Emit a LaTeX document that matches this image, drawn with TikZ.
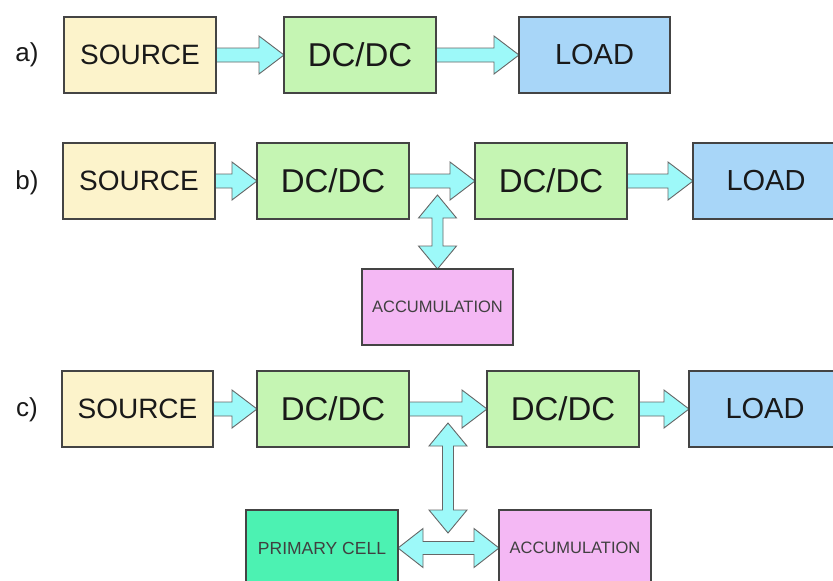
\documentclass[tikz,border=0pt]{standalone}
\usepackage{fontspec}
\setmainfont{Liberation Sans}
\usetikzlibrary{calc,backgrounds}
\definecolor{srcfill}{HTML}{FCF3CB}
\definecolor{dcfill}{HTML}{C5F5B3}
\definecolor{loadfill}{HTML}{A8D6F8}
\definecolor{accfill}{HTML}{F4B8F4}
\definecolor{pcfill}{HTML}{4CF2B2}
\definecolor{arrfill}{HTML}{9DF9F9}
\definecolor{edge}{HTML}{444444}
\tikzset{
  blk/.style={draw=edge, line width=1.2pt, minimum width=152pt, minimum height=76pt, inner sep=0pt, outer sep=0pt, text=black!90},
  srcbox/.style={blk, fill=srcfill, font=\fontsize{28}{30}\selectfont},
  dcbox/.style={blk, fill=dcfill, font=\fontsize{33}{35}\selectfont},
  loadbox/.style={blk, fill=loadfill, font=\fontsize{29}{31}\selectfont},
  accbox/.style={blk, fill=accfill, text=black!75, font=\fontsize{16.5}{18}\selectfont},
  pcbox/.style={blk, fill=pcfill, text=black!75, font=\fontsize{17.5}{19}\selectfont},
  rowlab/.style={font=\fontsize{26}{28}\selectfont, text=black!90},
  fatarrow/.style={draw=black!60, line width=0.9pt, fill=arrfill, line join=miter},
}
\newcommand{\harrow}[2]{%
  \path[fatarrow] let \p1=(#1), \p2=(#2) in
    (\x1,\y1+7pt) -- (\x2-25pt,\y1+7pt) -- (\x2-25pt,\y1+19pt) -- (\x2,\y1)
    -- (\x2-25pt,\y1-19pt) -- (\x2-25pt,\y1-7pt) -- (\x1,\y1-7pt) -- cycle;}
\newcommand{\vdarrow}[2]{%
  \path[fatarrow] let \p1=(#1), \p2=(#2) in
    (\x1,\y1) -- (\x1+19pt,\y1-23pt) -- (\x1+5.5pt,\y1-23pt) -- (\x1+5.5pt,\y2+23pt)
    -- (\x1+19pt,\y2+23pt) -- (\x1,\y2) -- (\x1-19pt,\y2+23pt) -- (\x1-5.5pt,\y2+23pt)
    -- (\x1-5.5pt,\y1-23pt) -- (\x1-19pt,\y1-23pt) -- cycle;}
\newcommand{\hdarrow}[2]{%
  \path[fatarrow] let \p1=(#1), \p2=(#2) in
    (\x1,\y1) -- (\x1+25pt,\y1+19.5pt) -- (\x1+25pt,\y1+6.5pt) -- (\x2-25pt,\y1+6.5pt)
    -- (\x2-25pt,\y1+19.5pt) -- (\x2,\y1) -- (\x2-25pt,\y1-19.5pt) -- (\x2-25pt,\y1-6.5pt)
    -- (\x1+25pt,\y1-6.5pt) -- (\x1+25pt,\y1-19.5pt) -- cycle;}
\begin{document}
\begin{tikzpicture}[x=1pt,y=-1pt]
\useasboundingbox (0,0) rectangle (833,581);
% row a
\node[rowlab] (la) at (27,55) {a)};
\node[srcbox] (srcA) at (140,55) {SOURCE};
\node[dcbox] (dcA) at (360,55) {DC/DC};
\node[loadbox, minimum width=151pt] (loadA) at (594.5,55) {LOAD};
% row b
\node[rowlab] (lb) at (27,183) {b)};
\node[srcbox] (srcB) at (139,181) {SOURCE};
\node[dcbox] (dcB1) at (333,181) {DC/DC};
\node[dcbox] (dcB2) at (551,181) {DC/DC};
\node[loadbox, minimum width=152pt, text width=140pt, align=center] (loadB) at (769,181) {\hspace*{-6pt}LOAD};
\node[accbox, minimum width=151pt] (accB) at (437.5,307) {ACCUMULATION};
\coordinate (jb) at (437.5,195);
% row c
\node[rowlab] (lc) at (27,410) {c)};
\node[srcbox, minimum width=151pt] (srcC) at (137.5,409) {SOURCE};
\node[dcbox] (dcC1) at (333,409) {DC/DC};
\node[dcbox] (dcC2) at (563,409) {DC/DC};
\node[loadbox, text width=140pt, align=center] (loadC) at (765,409) {LOAD};
\node[pcbox] (pcC) at (322,548) {PRIMARY CELL};
\node[accbox] (accC) at (575,548) {ACCUMULATION};
\coordinate (jc1) at (448,423);
\coordinate (jc2) at (448,533);
% arrows
\begin{pgfonlayer}{background}
\harrow{srcA.east}{dcA.west}
\harrow{dcA.east}{loadA.west}
\harrow{srcB.east}{dcB1.west}
\harrow{dcB1.east}{dcB2.west}
\harrow{dcB2.east}{loadB.west}
\vdarrow{jb}{accB.north}
\harrow{srcC.east}{dcC1.west}
\harrow{dcC1.east}{dcC2.west}
\harrow{dcC2.east}{loadC.west}
\vdarrow{jc1}{jc2}
\hdarrow{pcC.east}{accC.west}
\end{pgfonlayer}
\end{tikzpicture}
\end{document}
